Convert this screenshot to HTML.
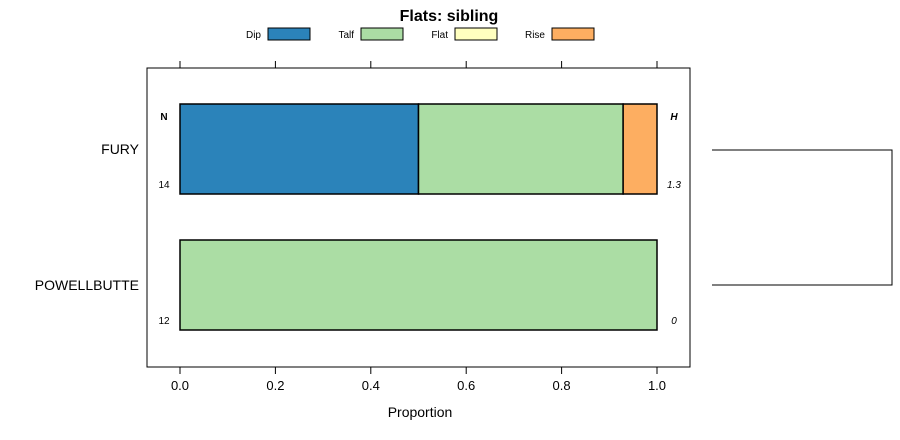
<!DOCTYPE html>
<html><head><meta charset="utf-8"><style>
body{margin:0;background:#fff;}
svg{display:block;font-family:"Liberation Sans",sans-serif;}
</style></head><body>
<svg id="chart" width="900" height="440">
<text x="449" y="21" text-anchor="middle" font-size="16" font-weight="bold">Flats: sibling</text>
<g id="legend"></g>
<rect x="147" y="68" width="543" height="299" fill="none" stroke="#000"/>
<g id="axes"></g>
<g id="bars"></g>
<text x="420" y="417" text-anchor="middle" font-size="14">Proportion</text>
<text x="164" y="120" text-anchor="middle" font-size="10" font-weight="bold">N</text>
<text x="674" y="120" text-anchor="middle" font-size="10" font-weight="bold" font-style="italic">H</text>
<path d="M712 150 H892 V285 H712" fill="none" stroke="#000"/>
</svg>
<script>
const categories=["FURY","POWELLBUTTE"];
const seriesNames=["Dip","Talf","Flat","Rise"];
const colors=["#2b83ba","#abdda4","#ffffbf","#fdae61"];
const dipVals=[0.5,0.0];
const talfVals=[0.429,1.0];
const flatVals=[0.0,0.0];
const riseVals=[0.071,0.0];
const nVals=["14","12"];
const hVals=["1.3","0"];
const ticks=[0,0.2,0.4,0.6,0.8,1.0];
const tickLabels=["0.0","0.2","0.4","0.6","0.8","1.0"];
const NS="http://www.w3.org/2000/svg";
const x=v=>180+v*477;
const yTop=i=>104+i*136;
const bh=90;
function mk(t,a,p){const e=document.createElementNS(NS,t);for(const k in a)e.setAttribute(k,a[k]);p.appendChild(e);return e;}
const axes=document.getElementById('axes'),bars=document.getElementById('bars'),leg=document.getElementById('legend');
ticks.forEach((t,i)=>{
 let l=mk('line',{x1:x(t),x2:x(t),y1:367,y2:374,stroke:'#000'},axes);
 
 
 let l2=mk('line',{x1:x(t),x2:x(t),y1:61,y2:68,stroke:'#000'},axes);
 
 
 let tx=mk('text',{x:x(t),y:390,'text-anchor':'middle','font-size':13},axes);tx.textContent=tickLabels[i];
 
 
});
const lx=[268,361,455,552];
seriesNames.forEach((s,i)=>{
 let t=mk('text',{x:lx[i]-7,y:38,'text-anchor':'end','font-size':10},leg);t.textContent=s;
 
 
 let r=mk('rect',{x:lx[i],y:28,width:42,height:12,fill:colors[i],stroke:'#000'},leg);
 
 
});
const all=[dipVals,talfVals,flatVals,riseVals];
categories.forEach((c,i)=>{
 let cum=0;const y=yTop(i);
 all.forEach((arr,k)=>{
  const v=arr[i];
  if(v>0){let r=mk('rect',{x:x(cum),y:y,width:x(cum+v)-x(cum),height:bh,fill:colors[k],stroke:'#000','stroke-width':1.5},bars);
  
  }
  cum+=v;
 });
 let t=mk('text',{x:139,y:y+bh/2+5,'text-anchor':'end','font-size':14},bars);t.textContent=c;
 
 
 let n=mk('text',{x:164,y:y+bh-6,'text-anchor':'middle','font-size':10},bars);n.textContent=nVals[i];
 
 
 let h=mk('text',{x:674,y:y+bh-6,'text-anchor':'middle','font-size':10,'font-style':'italic'},bars);h.textContent=hVals[i];
 
 
});
</script>
</body></html>
